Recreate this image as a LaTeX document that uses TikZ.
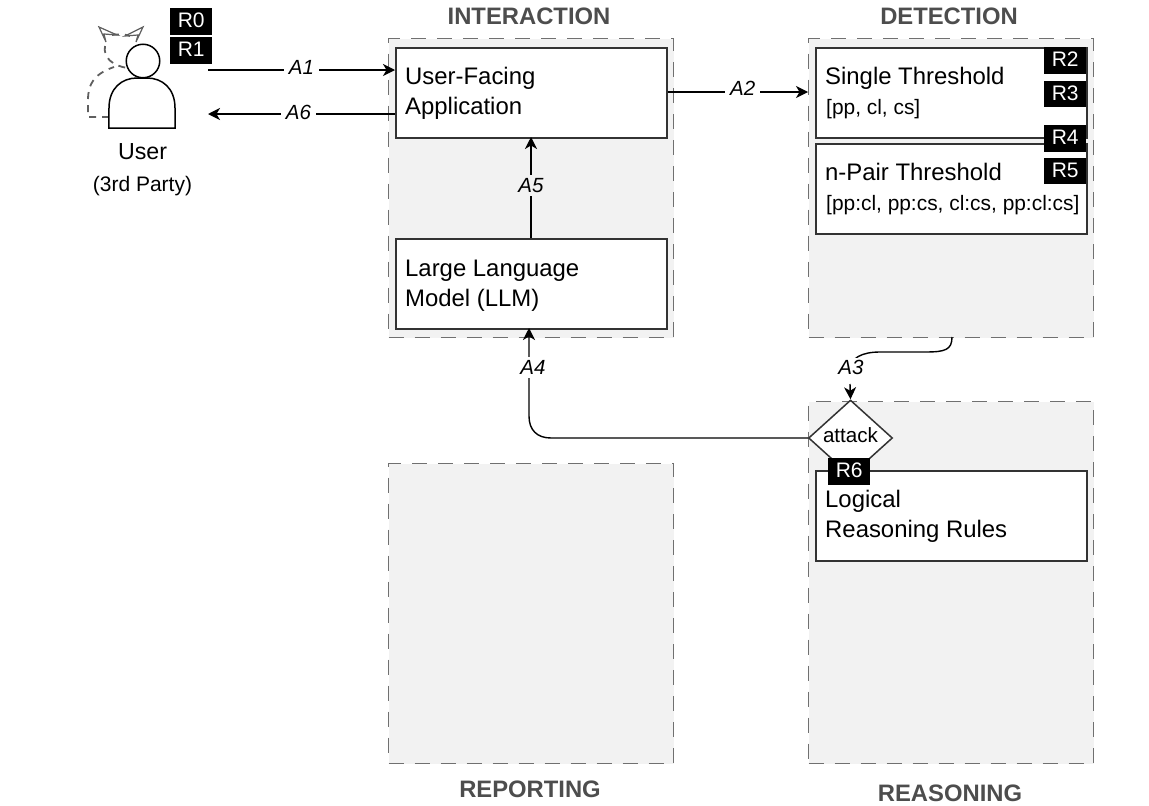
\documentclass[tikz,border=0pt]{standalone}
\usepackage{fontspec}
\setmainfont{Liberation Sans}
\usetikzlibrary{arrows.meta,shapes.geometric}
\definecolor{zonefill}{HTML}{F2F2F2}
\definecolor{zonedash}{HTML}{707070}
\definecolor{boxline}{HTML}{333333}
\definecolor{titlegray}{HTML}{4D4D4D}
\newcommand{\zone}[5]{\node[zonebox, minimum width=#3pt, minimum height=#4pt, anchor=north west] (#5) at (#1,#2) {};}
\newcommand{\rtag}[3]{\node[rtagbox, anchor=north west] (#3) at (#1,#2) {\raisebox{2pt}{#3}};}
\tikzset{
  zonebox/.style={draw=zonedash, fill=zonefill, line width=1.2pt, dash pattern=on 15pt off 11pt, inner sep=0},
  procbox/.style={draw=boxline, fill=white, line width=2pt, inner sep=0, minimum width=270.5pt, minimum height=90pt, anchor=north west},
  rtagbox/.style={fill=black, text=white, font=\fontsize{21}{24}\selectfont, inner sep=0, minimum width=42pt, minimum height=26.5pt, text depth=0pt},
  zonetitle/.style={font=\fontsize{23.8}{27}\selectfont\bfseries, text=titlegray},
  bigtext/.style={font=\fontsize{23.9}{30}\selectfont, anchor=west, align=left, inner sep=0},
  subtext/.style={font=\fontsize{20.9}{24}\selectfont, anchor=west, inner sep=0},
  flow/.style={line width=1.4pt, -{Stealth[length=12pt,width=12pt,inset=3.5pt]}},
  flowlabel/.style={font=\fontsize{20.5}{24}\selectfont\itshape, fill=white, inner xsep=5pt, inner ysep=3pt},
  ghost/.style={draw=zonedash!85!black, line width=1.8pt, dash pattern=on 7pt off 6pt},
  horn/.style={draw=zonedash!85!black, line width=1.2pt, fill=white, line join=miter},
}
\begin{document}
\begin{tikzpicture}[x=1pt,y=-1pt]
\useasboundingbox (0,0) rectangle (1149,806);

% Zones
\zone{388}{38}{285}{299}{interaction}
\zone{808}{38}{285}{299}{detection}
\zone{808}{401}{285}{362}{reasoning}
\zone{388}{463}{285}{300}{reporting}
\node[zonetitle] (tinteraction) at (529,16) {INTERACTION};
\node[zonetitle] (tdetection) at (949,16) {DETECTION};
\node[zonetitle] (treporting) at (530,789.5) {REPORTING};
\node[zonetitle] (treasoning) at (950,793) {REASONING};

% Ghost attacker behind the user
\draw[ghost] (109,117) -- (88,117) -- (88,100) .. controls (88,84) and (94,74) .. (114,67);
\draw[ghost] (105,46) .. controls (103,57) and (112,66) .. (128,68);
\draw[ghost] (112,35) .. controls (118,34) and (124,34) .. (130,36);
\draw[horn] (99,27) -- (117,35) -- (104,34) -- (106,42) -- cycle;
\draw[horn] (143,27) -- (125,36) -- (138,35) -- (136,42) -- cycle;

% User figure
\node[draw=black, fill=white, circle, line width=1.5pt, minimum size=33.5pt, inner sep=0] (head) at (143,61) {};
\node[inner sep=0, minimum width=66pt, minimum height=50pt] (user) at (142,103) {};
\draw[fill=white, line width=1.5pt] (user.south west) -- (109,108) .. controls (109,88) and (122,78) .. (137,78)
  -- (147,78) .. controls (162,78) and (175,88) .. (175,108) -- (user.south east) -- cycle;
\node[font=\fontsize{23.2}{27}\selectfont, inner sep=0] (userlabel) at (142.5,152) {User};
\node[font=\fontsize{21}{24}\selectfont, inner sep=0] (thirdparty) at (142.5,186) {(3rd Party)};

% Processing boxes
\node[procbox] (app) at (395,46.5) {};
\node[bigtext] (apptext) at (405,93) {User-Facing\\Application};
\node[procbox] (llm) at (395,237.5) {};
\node[bigtext] (llmtext) at (405,286) {Large Language\\Model (LLM)};
\node[procbox] (single) at (815,46.5) {};
\node[bigtext] (singletext) at (825,78) {Single Threshold};
\node[subtext] (singlesub) at (826,109) {[pp, cl, cs]};
\node[procbox] (npair) at (815,142.5) {};
\node[bigtext] (npairtext) at (825,171.5) {n-Pair Threshold};
\node[subtext] (npairsub) at (826,205) {[pp:cl, pp:cs, cl:cs, pp:cl:cs]};

% Attack decision and reasoning rules
\node[diamond, draw=boxline, fill=white, line width=1.5pt, inner sep=0, aspect=1.1, minimum width=84pt, minimum height=76pt, font=\fontsize{20.6}{24}\selectfont] (attack) at (850.5,438) {\raisebox{6pt}{attack}};
\node[procbox] (rules) at (815,469.5) {};
\node[bigtext] (rulestext) at (825,516) {Logical\\Reasoning Rules};

% Rule tags
\rtag{170}{8}{R0}
\rtag{170}{37}{R1}
\rtag{1044}{47}{R2}
\rtag{1044}{80.5}{R3}
\rtag{1044}{125}{R4}
\rtag{1044}{157.5}{R5}
\rtag{828}{458}{R6}

% Connectors
\coordinate (userout) at (208,70);
\coordinate (userin) at (208,114);
\coordinate (appinA) at (app.west |- userout);
\coordinate (appoutA) at (app.west |- userin);
\draw[flow] (userout) -- node[flowlabel, yshift=3pt] (a1) {A1} (appinA);
\draw[flow] (appoutA) -- node[flowlabel, yshift=2pt, xshift=-3pt] (a6) {A6} (userin);
\coordinate (appright) at (app.east |- 0,92);
\coordinate (detleft) at (detection.west |- 0,92);
\draw[flow] (appright) -- node[flowlabel, yshift=3.5pt, xshift=5pt] (a2) {A2} (detleft);
\coordinate (llmtop) at (531,238);
\coordinate (appbottom) at (531,137);
\draw[flow] (llmtop) -- node[flowlabel, fill=zonefill, pos=0.52, inner xsep=3pt] (a5) {A5} (appbottom);
\coordinate (llmbottom) at (529,328);
\draw[flow] (attack.west) -- (551,438) .. controls (537,438) and (529,430) .. (529,416) -- (llmbottom);
\node[flowlabel, inner xsep=3pt] (a4) at (533,367.5) {A4};
\coordinate (detbottom) at (952,337);
\draw[line width=1.4pt] (detbottom) .. controls (952,350) and (945,352) .. (925,352) -- (880,352) .. controls (862,352) and (850,358) .. (850,370);
\draw[flow] (850,384) -- (attack.north);
\node[flowlabel, inner xsep=3pt, inner ysep=2pt] (a3) at (851,367) {A3};
\end{tikzpicture}
\end{document}
